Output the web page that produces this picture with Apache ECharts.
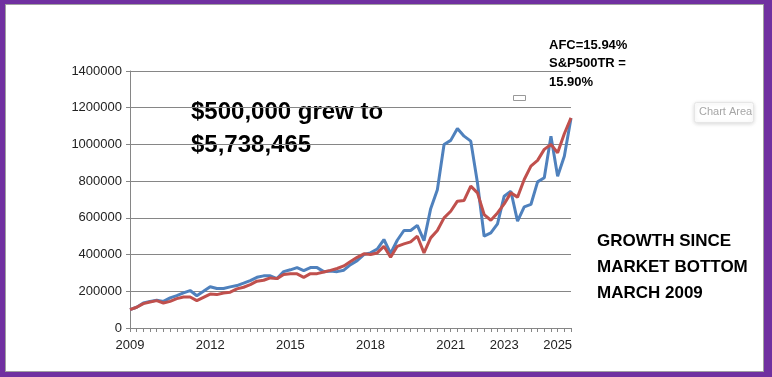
<!DOCTYPE html>
<html>
<head>
<meta charset="utf-8">
<script src="https://cdn.jsdelivr.net/npm/echarts@6/dist/echarts.min.js"></script>
<style>
  html, body { margin: 0; padding: 0; }
  body { width: 772px; height: 377px; background: #7030a0; position: relative; overflow: hidden; }
  #chart { position: absolute; left: 5px; top: 4px; width: 759px; height: 368px; background: #fff; border: 1px solid #a0a0a0; box-sizing: border-box; }
</style>
</head>
<body>
<div id="chart"></div>
<script>
// quarterly points, 2009 Q1 .. 2025 Q3
const quarters = [];
for (let y = 2009; y <= 2025; y++) {
  for (let q = 1; q <= 4; q++) {
    if (y === 2025 && q > 3) break;
    quarters.push(y + " Q" + q);
  }
}

// labels Excel shows under the axis
const tickIndex = [0, 12, 24, 36, 48, 56, 64];
const tickYears = ["2009", "2012", "2015", "2018", "2021", "2023", "2025"];

const afcValues = [
  100000, 113000, 136000, 145000, 151000, 145000, 164000, 176000, 191000, 204000,
  176000, 200000, 225000, 215000, 215000, 224000, 231000, 244000, 258000, 276000,
  284000, 284000, 269000, 307000, 317000, 329000, 312000, 329000, 329000, 307000,
  311000, 307000, 315000, 345000, 367000, 400000, 409000, 430000, 482000, 406000,
  478000, 531000, 531000, 559000, 476000, 650000, 753000, 1000000, 1022000, 1087000,
  1045000, 1018000, 791000, 500000, 518000, 567000, 718000, 745000, 582000, 660000,
  673000, 796000, 818000, 1045000, 827000, 936000, 1142000
];

const spxValues = [
  100000, 113000, 133000, 142000, 149000, 136000, 145000, 160000, 169000, 169000,
  149000, 167000, 185000, 182000, 191000, 195000, 213000, 222000, 236000, 255000,
  260000, 273000, 269000, 291000, 295000, 295000, 276000, 296000, 296000, 305000,
  314000, 324000, 338000, 362000, 385000, 404000, 400000, 409000, 445000, 385000,
  445000, 458000, 469000, 500000, 409000, 491000, 531000, 600000, 636000, 691000,
  695000, 773000, 736000, 618000, 587000, 627000, 676000, 736000, 713000, 809000,
  882000, 913000, 973000, 1000000, 955000, 1058000, 1145000
];

const chart = echarts.init(document.getElementById("chart"), null, { renderer: "canvas" });

const font = "'Liberation Sans', Arial, sans-serif";

const option = {
  animation: false,
  textStyle: { fontFamily: font },
  grid: { left: 124, top: 66, width: 441, height: 257 },
  xAxis: {
    type: "category",
    data: quarters,
    boundaryGap: false,
    axisLine: { lineStyle: { color: "#868686" } },
    axisTick: { interval: 0, length: 4, lineStyle: { color: "#868686" } },
    axisLabel: {
      interval: (idx) => tickIndex.includes(idx),
      formatter: (val, idx) => tickYears[tickIndex.indexOf(idx)] || "",
      color: "#222",
      fontSize: 13,
      margin: 11,
      fontFamily: font
    },
    splitLine: { show: false }
  },
  yAxis: {
    type: "value",
    min: 0,
    max: 1400000,
    interval: 200000,
    axisLine: { show: true, lineStyle: { color: "#868686" } },
    axisTick: { show: true, length: 4, lineStyle: { color: "#868686" } },
    axisLabel: { color: "#222", fontSize: 13, margin: 8, fontFamily: font, formatter: (v) => String(v) },
    splitLine: { lineStyle: { color: "#868686", width: 1 } }
  },
  series: [
    {
      name: "AFC",
      type: "line",
      data: afcValues,
      symbol: "none",
      lineStyle: { color: "#4f81bd", width: 3 },
      z: 2
    },
    {
      name: "S&P500TR",
      type: "line",
      data: spxValues,
      symbol: "none",
      lineStyle: { color: "#c0504d", width: 3 },
      z: 3
    }
  ],
  graphic: [
    {
      type: "text", left: 185, top: 91,
      style: { text: "$500,000 grew to\n$5,738,465", font: "bold 24px " + font, fill: "#000", lineHeight: 33 }
    },
    {
      type: "text", left: 543, top: 31,
      style: { text: "AFC=15.94%\nS&P500TR =\n15.90%", font: "bold 13px " + font, fill: "#000", lineHeight: 18.5 }
    },
    {
      type: "text", left: 591, top: 223,
      style: { text: "GROWTH SINCE\nMARKET BOTTOM\nMARCH 2009", font: "bold 17px " + font, fill: "#000", lineHeight: 26 }
    },
    {
      type: "rect", left: 507, top: 90,
      shape: { width: 12, height: 5 },
      style: { fill: "#fff", stroke: "#999", lineWidth: 1 }
    },
    {
      type: "rect", left: 688, top: 97,
      shape: { width: 59, height: 20, r: 2 },
      style: { fill: "#fff", stroke: "#e6e6e6", lineWidth: 1, shadowBlur: 4, shadowColor: "rgba(0,0,0,0.15)", shadowOffsetY: 1 }
    },
    {
      type: "text", left: 693, top: 101,
      style: { text: "Chart Area", font: "11px " + font, fill: "#a6a6a6" }
    }
  ]
};

chart.setOption(option);
</script>
</body>
</html>
